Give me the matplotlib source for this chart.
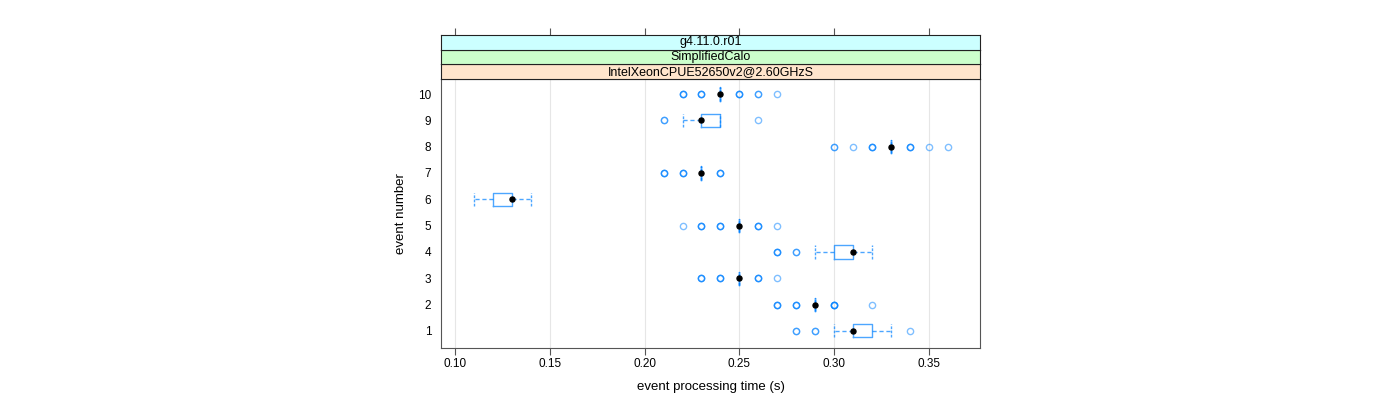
import matplotlib
matplotlib.use("Agg")
import matplotlib.pyplot as plt

plt.rcParams['font.family'] = ['Liberation Sans', 'DejaVu Sans']

events = [1, 2, 3, 4, 5, 6, 7, 8, 9, 10]
q1 = [0.31, 0.29, 0.25, 0.30, 0.25, 0.12, 0.23, 0.33, 0.23, 0.24]
med = [0.31, 0.29, 0.25, 0.31, 0.25, 0.13, 0.23, 0.33, 0.23, 0.24]
q3 = [0.32, 0.29, 0.25, 0.31, 0.25, 0.13, 0.23, 0.33, 0.24, 0.24]
wlo = [0.30, 0.29, 0.25, 0.29, 0.25, 0.11, 0.23, 0.33, 0.22, 0.24]
whi = [0.33, 0.29, 0.25, 0.32, 0.25, 0.14, 0.23, 0.33, 0.24, 0.24]
# outliers, repeated values stand for several runs at the same time
outliers = [
    [0.28, 0.28, 0.29, 0.29, 0.34],
    [0.27, 0.27, 0.27, 0.28, 0.28, 0.28, 0.30, 0.30, 0.30, 0.30, 0.32],
    [0.23, 0.23, 0.23, 0.24, 0.24, 0.24, 0.26, 0.26, 0.26, 0.27],
    [0.27, 0.27, 0.27, 0.28, 0.28],
    [0.22, 0.23, 0.23, 0.23, 0.24, 0.24, 0.24, 0.26, 0.26, 0.26, 0.27],
    [],
    [0.21, 0.21, 0.21, 0.22, 0.22, 0.22, 0.24, 0.24, 0.24],
    [0.30, 0.30, 0.31, 0.32, 0.32, 0.32, 0.34, 0.34, 0.34, 0.35, 0.36],
    [0.21, 0.21, 0.26],
    [0.22, 0.22, 0.22, 0.23, 0.23, 0.23, 0.25, 0.25, 0.25, 0.26, 0.26, 0.27],
]
strip_labels = ['g4.11.0.r01', 'SimplifiedCalo', 'IntelXeonCPUE52650v2@2.60GHzS']
strip_colors = ['#ccffff', '#ccffcc', '#ffe5cc']
xticks = [0.10, 0.15, 0.20, 0.25, 0.30, 0.35]

blue = '#0080ff'
frame = '#555555'

fig = plt.figure(figsize=(14, 4), dpi=100)
ax = fig.add_axes([0.315, 0.13, 0.385, 0.6725])

stats = []
for i in range(len(events)):
    stats.append(dict(med=med[i], q1=q1[i], q3=q3[i], whislo=wlo[i], whishi=whi[i], fliers=[]))

ax.bxp(stats, positions=events, vert=False, widths=0.5, showfliers=False,
       boxprops=dict(color=blue, alpha=0.7, lw=1),
       whiskerprops=dict(color=blue, alpha=0.7, lw=1, ls=(0, (3, 2))),
       capprops=dict(color=blue, alpha=0.7, lw=1, ls=(0, (2, 1))),
       medianprops=dict(lw=0), capwidths=0.5)

for ev, m in zip(events, med):
    ax.plot([m], [ev], 'o', color='black', ms=3.6, zorder=5)

for ev, out in zip(events, outliers):
    if out:
        ax.plot(out, [ev] * len(out), 'o', mfc='none', mec=blue, ms=4.5, mew=1, alpha=0.5, ls='none')

ax.set_xlim(0.0926, 0.3769)
ax.set_ylim(0.35, 10.57)
ax.set_xticks(xticks)
ax.set_xticklabels(['%.2f' % t for t in xticks], fontsize=8.5)
ax.set_yticks(events)
ax.set_yticklabels([str(e) for e in events], fontsize=8.5)
ax.tick_params(axis='y', length=0, pad=7)
ax.tick_params(axis='x', length=5, color=frame, pad=2)
ax.grid(axis='x', color='#e6e6e6', lw=0.8)
ax.set_axisbelow(True)
for s in ax.spines.values():
    s.set_color(frame)
ax.set_xlabel('event processing time (s)', fontsize=9.5, labelpad=8)
ax.set_ylabel('event number', fontsize=9.5, labelpad=8)

# strips on top, the topmost one carries the top ticks
sh = 0.0367
top = 0.13 + 0.6725
for k, (lab, col) in enumerate(zip(reversed(strip_labels), reversed(strip_colors))):
    sax = fig.add_axes([0.315, top + k * sh, 0.385, sh], sharex=ax)
    sax.set_facecolor(col)
    sax.set_yticks([])
    sax.text(0.5, 0.5, lab, ha='center', va='center', fontsize=9, transform=sax.transAxes)
    for s in sax.spines.values():
        s.set_color('#222222')
        s.set_linewidth(0.8)
    if k == len(strip_labels) - 1:
        sax.tick_params(axis='x', top=True, bottom=False, labelbottom=False,
                        labeltop=False, length=5, color=frame)
    else:
        sax.tick_params(axis='x', bottom=False, labelbottom=False, length=0)

fig.savefig('out.png', dpi=100)
